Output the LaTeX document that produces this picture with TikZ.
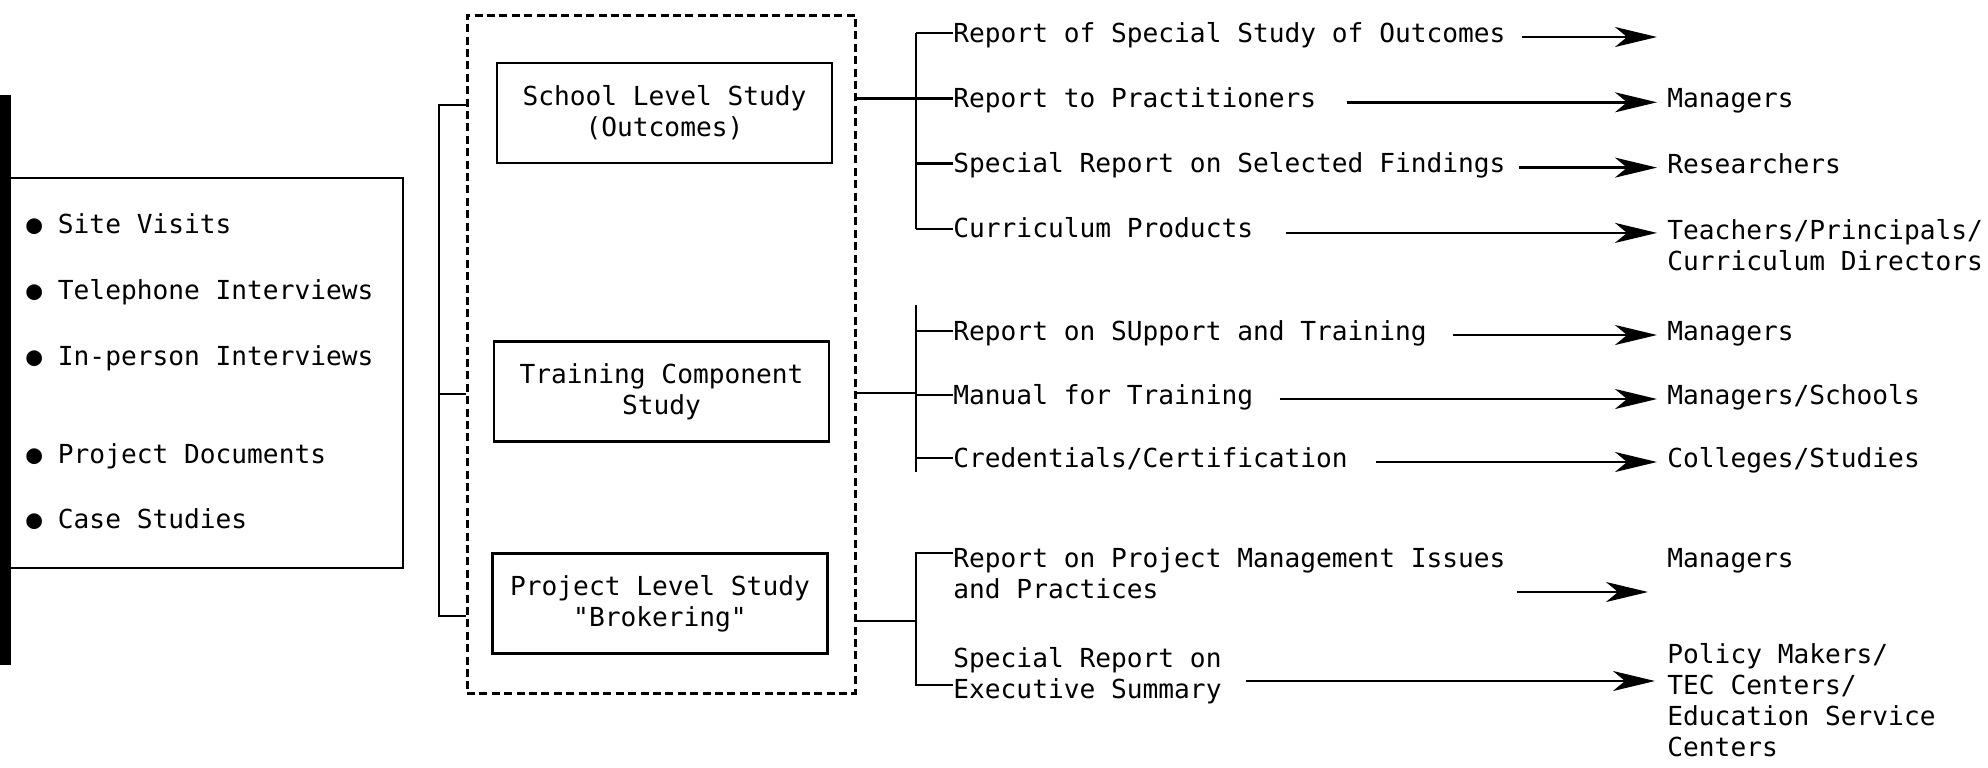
\documentclass[tikz,border=0pt]{standalone}
\usepackage{fontspec}
\newfontfamily\typefont{DejaVu Sans Mono}
\usetikzlibrary{arrows.meta}
\usetikzlibrary{positioning}
\tikzset{
    studynode/.style = {draw,line width=1.3pt,align=center,inner sep=0,minimum width=167.5pt,minimum height=50pt},
    studybox/.style = {draw,line width=1.5pt,dash pattern=on 4pt off 2.2pt,inner sep=0,minimum width=194pt,minimum height=339pt},
    txt/.style = {inner sep=0,anchor=base west,align=left},
    link/.style = {line width=1.2pt},
    flow/.style = {line width=1.3pt,-{Stealth[length=21pt,width=10pt,inset=6pt]}},
    midline/.style = {yshift=4.5pt},
    arrline/.style = {yshift=2.5pt}
}

\begin{document}
\begin{tikzpicture}[x=0.5pt,y=-0.5pt,font=\typefont\fontsize{13.1pt}{15.5pt}\selectfont]
        \useasboundingbox (0,0) rectangle (1988,767);
        \newcommand*\isep{66}
        \newcommand*\rowsep{65.3}
        % Sources
        \fill (0,95) rectangle (11,665);
        \node[draw,line width=1.3pt,inner sep=0,minimum width=196.5pt,minimum height=195pt] (info) at (206.5,373) {};
        \path (26,233) node[txt] (i1) {● Site Visits}
            to +(0,\isep) node[txt] (i2) {● Telephone Interviews}
            to +(0,2*\isep) node[txt] (i3) {● In-person Interviews}
            to +(0,230) node[txt] (i4) {● Project Documents}
            to +(0,295) node[txt] (i5) {● Case Studies}
        ;
        % Studies
        \node[studybox] (studies) at (661,354) {};
        \node[studynode] (school) at (664.5,113) {School Level Study\\(Outcomes)};
        \node[studynode] (training) at (661.5,391.5) {Training Component\\Study};
        \node[studynode] (project) at (660,603.5) {Project Level Study\\"Brokering"};
        \coordinate (lb) at (439,0);
        \draw[link] (studies.west |- 0,105) -- (lb |- 0,105) -- (lb |- 0,616) -- (studies.west |- 0,616);
        \draw[link] (lb |- 0,394) -- (studies.west |- 0,394);
        % Products (multi-line texts sit on their last line)
        \path (953,42) node[txt] (o1) {Report of Special Study of Outcomes}
            to +(0,\rowsep) node[txt] (o2) {Report to Practitioners}
            to +(0,2*\rowsep) node[txt] (o3) {Special Report on Selected Findings}
            to +(0,3*\rowsep) node[txt] (o4) {Curriculum Products}
        ;
        \path (953,340) node[txt] (t1) {Report on SUpport and Training}
            to +(0,64) node[txt] (t2) {Manual for Training}
            to +(0,127) node[txt] (t3) {Credentials/Certification}
        ;
        \node[txt] (p1) at (953,598) {Report on Project Management Issues\\and Practices};
        \node[txt] (p2) at (953,698) {Special Report on\\Executive Summary};
        % Audiences
        \node[txt] (ma) at (1667,107) {Managers};
        \node[txt] (re) at (1667,173) {Researchers};
        \node[txt] (te) at (1667,270) {Teachers/Principals/\\Curriculum Directors};
        \node[txt] (mb) at (1667,340) {Managers};
        \node[txt] (ms) at (1667,404) {Managers/Schools};
        \node[txt] (cs) at (1667,467) {Colleges/Studies};
        \node[txt] (mc) at (1667,567) {Managers};
        \node[txt] (po) at (1667,756) {Policy Makers/\\TEC Centers/\\Education Service\\Centers};
        % Brackets
        \coordinate (g) at (916,0);
        \foreach \n in {o1,o2,o3,o4,t1,t2,t3}
            \draw[link] ([midline]\n.base west) -- ([midline]\n.base west -| g);
        \draw[link] ([midline]o1.base west -| g) -- ([midline]o4.base west -| g);
        \draw[link] ([midline]o2.base west -| studies.east) -- ([midline]o2.base west -| g);
        \draw[link] (g |- 0,305) -- (g |- 0,472);
        \draw[link] (studies.east |- 0,393) -- (g |- 0,393);
        \draw[link] ([yshift=22.5pt]p1.base west) -- ([yshift=22.5pt]p1.base west -| g)
            -- ([yshift=6.5pt]p2.base west -| g) -- ([yshift=6.5pt]p2.base west);
        \draw[link] (studies.east |- 0,621) -- (g |- 0,621);
        % Distribution
        \coordinate (e1) at (1657,0);
        \coordinate (e3) at (1648,0);
        \draw[flow,shorten <=8pt] ([arrline]o1.base east) -- ([arrline]o1.base east -| e1);
        \draw[flow,shorten <=15pt,shorten >=5pt] ([arrline]o2.base east) -- ([arrline]o2.base east -| ma.west);
        \draw[flow,shorten <=6.5pt,shorten >=5pt] ([arrline]o3.base east) -- ([arrline]o3.base east -| re.west);
        \draw[flow,shorten <=16pt,shorten >=5pt] ([arrline]o4.base east) -- ([arrline]o4.base east -| te.west);
        \draw[flow,shorten <=13pt,shorten >=5pt] ([arrline]t1.base east) -- ([arrline]t1.base east -| mb.west);
        \draw[flow,shorten <=13pt,shorten >=5pt] ([arrline]t2.base east) -- ([arrline]t2.base east -| ms.west);
        \draw[flow,shorten <=14pt,shorten >=5pt] ([arrline]t3.base east) -- ([arrline]t3.base east -| cs.west);
        \draw[flow,shorten <=5.5pt] ([yshift=3pt]p1.base east) -- ([yshift=3pt]p1.base east -| e3);
        \draw[flow,shorten <=12pt,shorten >=6pt] ([yshift=8.5pt]p2.base east) -- ([yshift=8.5pt]p2.base east -| po.west);
\end{tikzpicture}
\end{document}
